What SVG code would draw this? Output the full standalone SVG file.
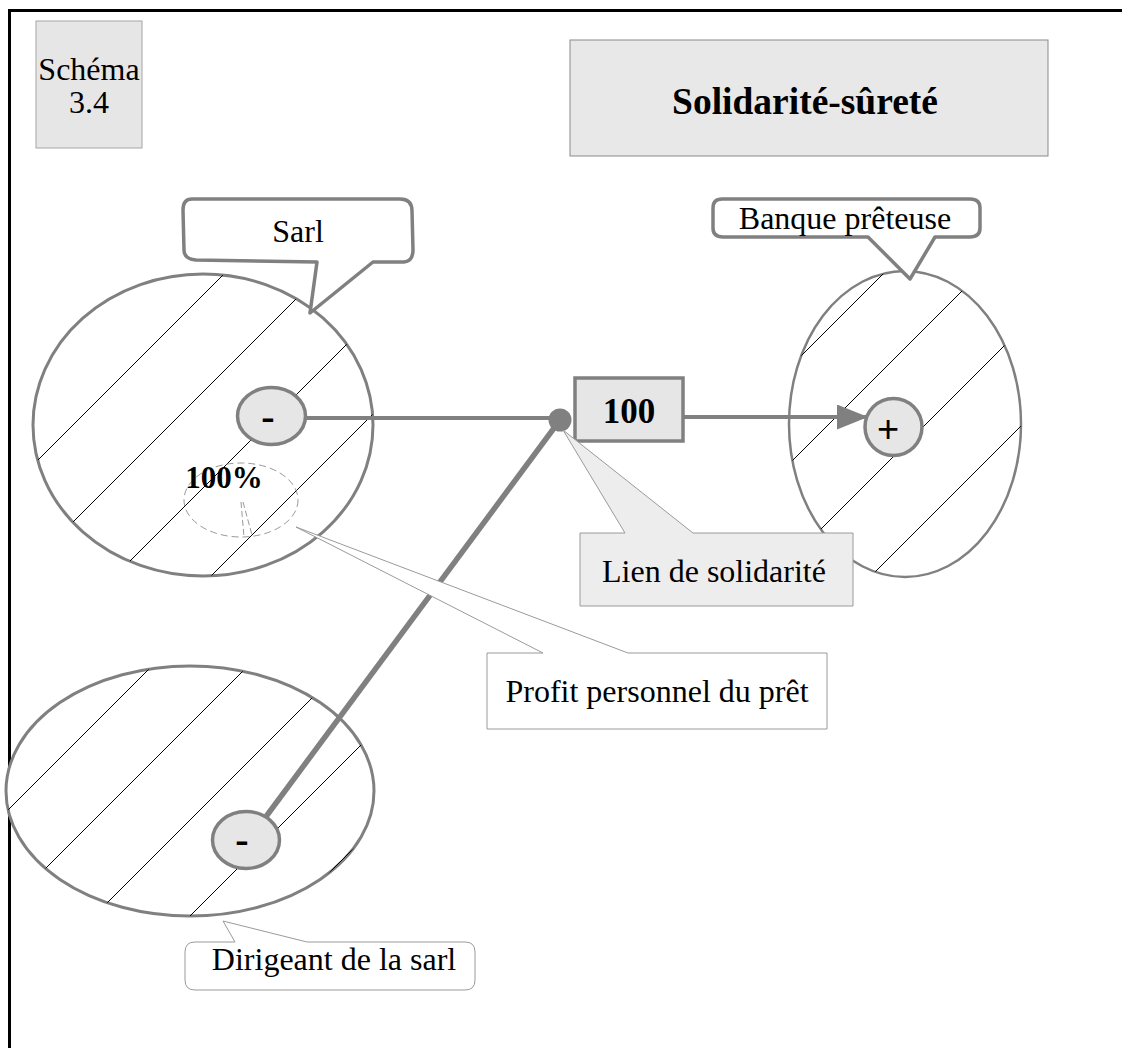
<svg xmlns="http://www.w3.org/2000/svg" width="1122" height="1048" viewBox="0 0 1122 1048">
  <style>
    .t { font-family: "Liberation Serif", "Times New Roman", serif; font-size: 32px; fill: #000; text-anchor: middle; }
    .b { font-weight: bold; }
    .ell { fill: #fff; stroke: #808080; stroke-width: 3; }
    .hatch { stroke: #000; stroke-width: 1; }
    .sign { fill: #e6e6e6; stroke: #808080; stroke-width: 3.5; }
    .bubble { fill: #fff; stroke: #808080; stroke-width: 3.5; stroke-linejoin: round; }
    .link { stroke: #808080; fill: none; }
  </style>
  <defs>
    <clipPath id="clipSarl"><ellipse cx="203" cy="425" rx="170" ry="151"/></clipPath>
    <clipPath id="clipBanque"><ellipse cx="905" cy="424" rx="116" ry="153"/></clipPath>
    <clipPath id="clipDir"><ellipse cx="190" cy="791" rx="184" ry="125"/></clipPath>
    <marker id="arrow" markerUnits="userSpaceOnUse" markerWidth="32" markerHeight="26" refX="31" refY="12.5" orient="auto">
      <path d="M0,0 L31,12.5 L0,25 Z" fill="#808080"/>
    </marker>
  </defs>

  <rect width="1122" height="1048" fill="#fff"/>

  <!-- page frame: top and left edges -->
  <path d="M9.5,1048 V10.5 H1122" fill="none" stroke="#000" stroke-width="3"/>

  <!-- label box -->
  <g id="schema">
    <rect x="36" y="21" width="106" height="127" fill="#e6e6e6" stroke="#a6a6a6" stroke-width="1"/>
    <text class="t" x="89" y="80">Schéma</text>
    <text class="t" x="89" y="113">3.4</text>
  </g>

  <!-- title -->
  <g id="title">
    <rect x="570" y="40" width="478" height="116" fill="#e8e8e8" stroke="#8a8a8a" stroke-width="1"/>
    <text class="t b" x="805" y="114" style="font-size:37.5px">Solidarité-sûreté</text>
  </g>

  <!-- Sarl -->
  <g id="sarl">
    <ellipse class="ell" cx="203" cy="425" rx="170" ry="151"/>
    <g clip-path="url(#clipSarl)" class="hatch">
      <line x1="-92" y1="590" x2="238" y2="260"/>
      <line x1="5" y1="590" x2="335" y2="260"/>
      <line x1="101" y1="590" x2="431" y2="260"/>
      <line x1="197" y1="590" x2="527" y2="260"/>
    </g>
  </g>

  <!-- Banque prêteuse -->
  <g id="banque">
    <ellipse cx="905" cy="424" rx="116" ry="153" fill="#fff" stroke="#808080" stroke-width="2.5"/>
    <g clip-path="url(#clipBanque)" class="hatch">
      <line x1="567" y1="590" x2="897" y2="260"/>
      <line x1="663" y1="590" x2="993" y2="260"/>
      <line x1="760" y1="590" x2="1090" y2="260"/>
      <line x1="857" y1="590" x2="1187" y2="260"/>
    </g>
  </g>

  <!-- Dirigeant de la sarl -->
  <g id="dirigeant">
    <ellipse class="ell" cx="190" cy="791" rx="184" ry="125"/>
    <g clip-path="url(#clipDir)" class="hatch">
      <line x1="-112" y1="930" x2="168" y2="650"/>
      <line x1="-16" y1="930" x2="264" y2="650"/>
      <line x1="80" y1="930" x2="360" y2="650"/>
      <line x1="176" y1="930" x2="456" y2="650"/>
      <line x1="272" y1="930" x2="552" y2="650"/>
    </g>
  </g>

  <!-- 100% share marker -->
  <g id="part">
    <ellipse cx="241" cy="500" rx="57" ry="37" fill="none" stroke="#999" stroke-width="1" stroke-dasharray="7,4"/>
    <path d="M241,502 L244,537 M243,502 L252,535" fill="none" stroke="#999" stroke-width="1" stroke-dasharray="6,3"/>
    <text class="t b" x="224" y="488" style="font-size:31px">100%</text>
  </g>

  <!-- connectors -->
  <g id="connectors">
    <line class="link" x1="300" y1="418" x2="560" y2="418" stroke-width="4"/>
    <line class="link" x1="560" y1="420" x2="262" y2="822" stroke-width="5.5"/>
    <line class="link" x1="683" y1="417" x2="868" y2="417" stroke-width="4" marker-end="url(#arrow)"/>
    <circle cx="560" cy="420" r="11.5" fill="#808080"/>
  </g>

  <!-- sign nodes -->
  <g id="moins-sarl">
    <ellipse class="sign" cx="271.5" cy="416" rx="34" ry="28.5"/>
    <text class="t b" x="268" y="430" style="font-size:40px">-</text>
  </g>
  <g id="moins-dirigeant">
    <ellipse class="sign" cx="246" cy="840" rx="33.5" ry="28.5"/>
    <text class="t b" x="242" y="853" style="font-size:40px">-</text>
  </g>
  <g id="plus-banque">
    <circle class="sign" cx="893.5" cy="427" r="28.5"/>
    <text x="888" y="442" text-anchor="middle" font-family="Liberation Sans, Arial, sans-serif" font-size="38">+</text>
  </g>

  <!-- amount -->
  <g id="montant">
    <rect x="575" y="378" width="108" height="63" fill="#e6e6e6" stroke="#808080" stroke-width="3.5"/>
    <text class="t b" x="629" y="423" style="font-size:35px">100</text>
  </g>

  <!-- callouts -->
  <g id="bulle-sarl">
    <path class="bubble" d="M192,199 Q183,199 183,210 L184,250 Q184,259 196,260 L317,262 L310,313 L373,262 L404,262 Q413,261 413,250 L412,211 Q412,199 400,199 Z"/>
    <text class="t" x="298" y="242">Sarl</text>
  </g>
  <g id="bulle-banque">
    <path class="bubble" d="M722,199 Q713,199 713,208 L713,228 Q713,237 723,237 L868,237 L910,279 L935,237 L970,237 Q980,237 980,228 L980,208 Q980,199 970,199 Z"/>
    <text class="t" x="845" y="229">Banque prêteuse</text>
  </g>
  <g id="bulle-lien">
    <path d="M580,533 L625,533 L563,430 L693,533 L853,533 L853,606 L580,606 Z" fill="#ededed" stroke="#9a9a9a" stroke-width="1"/>
    <text class="t" x="714" y="582">Lien de solidarité</text>
  </g>
  <g id="bulle-profit">
    <path d="M487,653 L543,653 L296,527 L628,653 L827,653 L827,729 L487,729 Z" fill="#fff" stroke="#9a9a9a" stroke-width="1"/>
    <text class="t" x="657" y="702">Profit personnel du prêt</text>
  </g>
  <g id="bulle-dirigeant">
    <path d="M195,942 Q185,942 185,952 L185,980 Q185,990 195,990 L465,990 Q475,990 475,980 L475,952 Q475,942 465,942 L307,942 L223,921 L235,942 Z" fill="#fff" stroke="#9a9a9a" stroke-width="1"/>
    <text class="t" x="334" y="970">Dirigeant de la sarl</text>
  </g>
</svg>
